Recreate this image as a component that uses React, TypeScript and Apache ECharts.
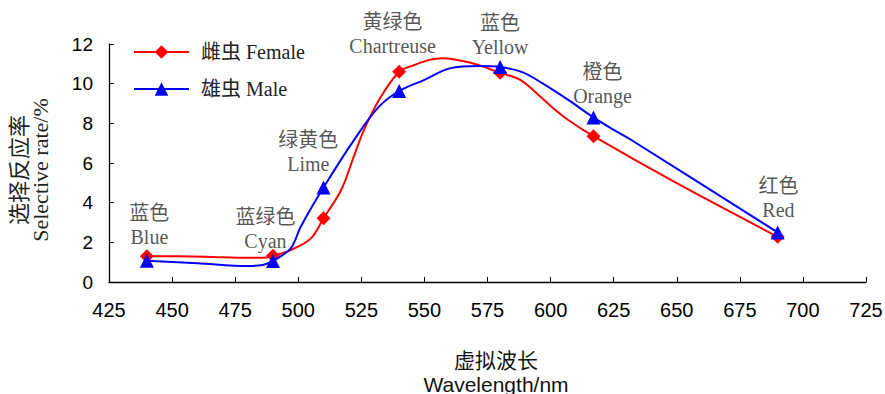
import React, { useEffect, useRef } from "react";
import * as echarts from "echarts";

// Marker wavelengths (nm) and selective rates (%)
const wavelengths = [440, 490, 510, 540, 580, 617, 690];
const femaleRates = [1.3, 1.32, 3.21, 10.6, 10.55, 7.35, 2.28];
const maleRates = [1.07, 1.06, 4.76, 9.63, 10.84, 8.3, 2.5];

// Intermediate points of the drawn curves
const femaleCurveX = [453, 470, 486, 497, 505, 517, 522, 526, 532, 546, 552, 557, 569, 588, 596, 601, 607, 650];
const femaleCurveY = [1.3, 1.25, 1.22, 1.61, 2.2, 4.64, 6.32, 7.66, 9.18, 10.94, 11.2, 11.28, 11.03, 10.19, 9.34, 8.77, 8.17, 4.98];
const maleCurveX = [460, 480, 486, 497, 501, 523, 532, 550, 560, 572, 589, 597, 607, 624, 632];
const maleCurveY = [0.95, 0.81, 0.86, 1.7, 2.79, 7.33, 8.84, 10.19, 10.77, 10.89, 10.57, 10.0, 9.18, 7.75, 7.16];

// Colour annotations
const colorNamesCn = ["蓝色", "蓝绿色", "绿黄色", "黄绿色", "蓝色", "橙色", "红色"];
const colorNamesEn = ["Blue", "Cyan", "Lime", "Chartreuse", "Yellow", "Orange", "Red"];
const labelX = [441, 487, 504, 537.4, 580, 620.6, 690.3];
const labelY = [2.87, 2.67, 6.56, 12.5, 12.45, 10.0, 4.26];

const SERIF = "'Liberation Serif', 'Times New Roman', 'Noto Sans CJK SC', serif";
const SANS = "'Liberation Sans', Arial, 'Noto Sans CJK SC', sans-serif";

function buildData(mx: number[], my: number[], cx: number[], cy: number[]) {
  const pts: { value: number[]; symbol?: string }[] = [];
  mx.forEach((x, i) => pts.push({ value: [x, my[i]] }));
  cx.forEach((x, i) => pts.push({ value: [x, cy[i]], symbol: "none" }));
  pts.sort((a, b) => a.value[0] - b.value[0]);
  return pts;
}

export default function App() {
  const ref = useRef<HTMLDivElement>(null);
  useEffect(() => {
    if (!ref.current) return;
    const chart = echarts.init(ref.current, undefined, { renderer: "svg" });
    chart.setOption({
      animation: false,
      backgroundColor: "#ffffff",
      grid: { left: 109, right: 19, top: 44, bottom: 112, containLabel: false, outerBoundsMode: "none" },
      legend: {
        orient: "vertical",
        left: 128,
        top: 37,
        itemWidth: 55,
        itemHeight: 17,
        itemGap: 17,
        data: ["雌虫 Female", "雄虫 Male"],
        textStyle: { fontSize: 20, fontFamily: SERIF, color: "#222", padding: [0, 0, 0, 7] },
      },
      xAxis: {
        type: "value",
        min: 425,
        max: 725,
        interval: 25,
        name: "虚拟波长\nWavelength/nm",
        nameLocation: "middle",
        nameGap: 66,
        nameTextStyle: { fontSize: 21, fontFamily: SANS, color: "#111", lineHeight: 24, padding: [0, 0, 0, 17] },
        axisLine: { show: true, lineStyle: { color: "#000", width: 1.3 } },
        axisTick: { show: true, inside: true, length: 5, lineStyle: { color: "#000" } },
        axisLabel: { fontSize: 20, fontFamily: SANS, color: "#000", margin: 18 },
        splitLine: { show: false },
      },
      yAxis: {
        type: "value",
        min: 0,
        max: 12,
        interval: 2,
        name: "选择反应率\nSelective rate/%",
        nameLocation: "middle",
        nameRotate: 90,
        nameGap: 58,
        nameTextStyle: { fontSize: 22, fontFamily: SERIF, color: "#222", lineHeight: 21, padding: [0, 14, 0, 0] },
        axisLine: { show: true, lineStyle: { color: "#000", width: 1.3 } },
        axisTick: { show: true, inside: true, length: 5, lineStyle: { color: "#000" } },
        axisLabel: { fontSize: 19, fontFamily: SANS, color: "#000", margin: 16 },
        splitLine: { show: false },
      },
      series: [
        {
          name: "雌虫 Female",
          type: "line",
          smooth: 0.35,
          symbol: "diamond",
          symbolSize: 14,
          showSymbol: true,
          color: "#ff0000",
          lineStyle: { color: "#ff0000", width: 2 },
          itemStyle: { color: "#ff0000" },
          data: buildData(wavelengths, femaleRates, femaleCurveX, femaleCurveY),
          z: 3,
        },
        {
          name: "雄虫 Male",
          type: "line",
          smooth: 0.35,
          symbol: "triangle",
          symbolSize: 14,
          showSymbol: true,
          color: "#0000ff",
          lineStyle: { color: "#0000ff", width: 2 },
          itemStyle: { color: "#0000ff" },
          data: buildData(wavelengths, maleRates, maleCurveX, maleCurveY),
          z: 4,
        },
        {
          name: "labels",
          type: "scatter",
          symbolSize: 0,
          silent: true,
          clip: false,
          data: labelX.map((x, i) => ({ value: [x, labelY[i]], name: colorNamesCn[i] + "\n" + colorNamesEn[i] })),
          label: {
            show: true,
            position: "inside",
            formatter: (p: any) => p.name,
            fontSize: 20,
            lineHeight: 24,
            fontFamily: SERIF,
            color: "#2a2a2a",
            align: "center",
          },
          z: 5,
        },
      ],
    });
    return () => chart.dispose();
  }, []);
  return (
    <div
      ref={ref}
      style={{ position: "absolute", left: 0, top: 0, width: 885, height: 394, background: "#fff" }}
    />
  );
}
